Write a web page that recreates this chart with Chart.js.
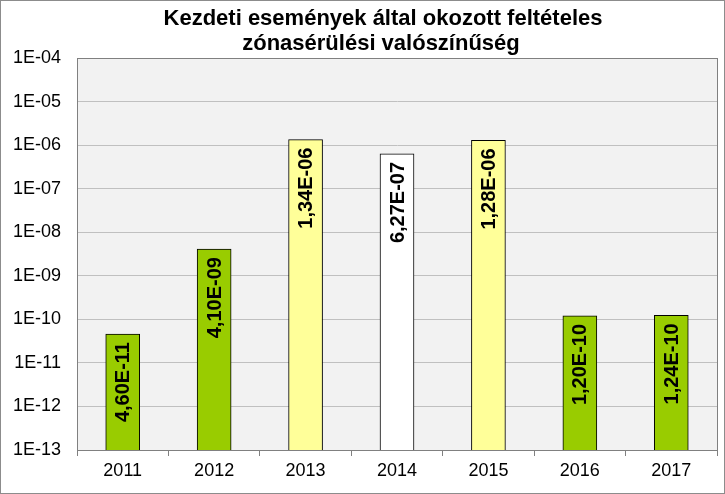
<!DOCTYPE html>
<html><head><meta charset="utf-8">
<script src="https://cdn.jsdelivr.net/npm/chart.js@4.4.1/dist/chart.umd.min.js"></script>
<style>html,body{margin:0;padding:0;background:#fff}#wrap{width:725px;height:494px}</style>
</head><body><div id="wrap"><canvas id="c" width="725" height="494"></canvas></div>
<script>
const years = ['2011','2012','2013','2014','2015','2016','2017'];
const values = [4.60e-11, 4.10e-9, 1.34e-6, 6.27e-7, 1.28e-6, 1.20e-10, 1.24e-10];
const valueLabels = ['4,60E-11','4,10E-09','1,34E-06','6,27E-07','1,28E-06','1,20E-10','1,24E-10'];
const barColors = ['#99CC00','#99CC00','#FFFF99','#FFFFFF','#FFFF99','#99CC00','#99CC00'];
const yTickExponents = [-13,-12,-11,-10,-9,-8,-7,-6,-5,-4];
const titleLines = ['Kezdeti események által okozott feltételes','zónasérülési valószínűség'];

const FONT = "'Liberation Sans', Arial, sans-serif";

const bgPlugin = {
  id: 'bg',
  beforeDraw(chart) {
    const {ctx, chartArea: a} = chart;
    ctx.save();
    ctx.fillStyle = '#fff';
    ctx.fillRect(0,0,chart.width,chart.height);
    ctx.fillStyle = '#F2F2F2';
    ctx.fillRect(a.left, a.top, a.right-a.left, a.bottom-a.top);
    ctx.restore();
  },
  afterDraw(chart) {
    const {ctx, chartArea: a} = chart;
    ctx.save();
    ctx.strokeStyle = '#808080';
    ctx.lineWidth = 1;
    ctx.strokeRect(Math.round(a.left)+0.5, Math.round(a.top)+0.5, Math.round(a.right-a.left), Math.round(a.bottom-a.top));
    ctx.strokeStyle = '#8c8c8c';
    ctx.strokeRect(0.5,0.5,chart.width-1,chart.height-1);
    // title
    ctx.fillStyle = '#000';
    ctx.font = 'bold 22px ' + FONT;
    ctx.textAlign = 'center';
    ctx.textBaseline = 'alphabetic';
    ctx.fillText(titleLines[0], 383, 25);
    ctx.fillText(titleLines[1], 381, 50);
    ctx.restore();
  }
};

const labelPlugin = {
  id: 'vlabels',
  afterDatasetsDraw(chart) {
    const {ctx} = chart;
    const meta = chart.getDatasetMeta(0);
    ctx.save();
    ctx.font = 'bold 20px ' + FONT;
    ctx.fillStyle = '#000';
    ctx.textAlign = 'right';
    ctx.textBaseline = 'middle';
    meta.data.forEach((bar, i) => {
      ctx.save();
      ctx.translate(bar.x + 1, bar.y + 8);
      ctx.rotate(-Math.PI/2);
      ctx.fillText(valueLabels[i], 0, 0);
      ctx.restore();
    });
    ctx.restore();
  }
};

new Chart(document.getElementById('c'), {
  type: 'bar',
  data: {
    labels: years,
    datasets: [{
      data: values,
      backgroundColor: barColors,
      borderColor: '#000',
      borderWidth: 1,
      borderSkipped: 'bottom',
      barThickness: 34
    }]
  },
  options: {
    responsive: false,
    animation: false,
    layout: {padding: {left: 0, right: 8, top: 58, bottom: 0}},
    plugins: {
      legend: {display: false},
      tooltip: {enabled: false},
      title: {display: false}
    },
    scales: {
      x: {
        offset: true,
        grid: {display: true, drawOnChartArea: false, offset: true, drawTicks: true, tickLength: 6, color: '#808080'},
        border: {display: true, color: '#808080'},
        ticks: {color: '#000', font: {family: FONT, size: 18}, padding: 4},
        afterFit(scale) { scale.height = 44; }
      },
      y: {
        type: 'logarithmic',
        min: 1e-13,
        max: 1e-4,
        grid: {color: '#C0C0C0', drawTicks: false},
        border: {display: true, color: '#808080'},
        ticks: {
          color: '#000',
          font: {family: FONT, size: 18},
          padding: 16,
          autoSkip: false,
          callback(v) {
            const e = Math.round(Math.log10(v));
            const s = Math.abs(e) < 10 ? '0' + Math.abs(e) : '' + Math.abs(e);
            return '1E' + (e < 0 ? '-' : '+') + s;
          }
        },
        afterBuildTicks(scale) {
          scale.ticks = yTickExponents.map(e => ({value: Math.pow(10, e), major: true}));
        },
        afterFit(scale) { scale.width = 77; }
      }
    }
  },
  plugins: [bgPlugin, labelPlugin]
});
</script>
</body></html>
